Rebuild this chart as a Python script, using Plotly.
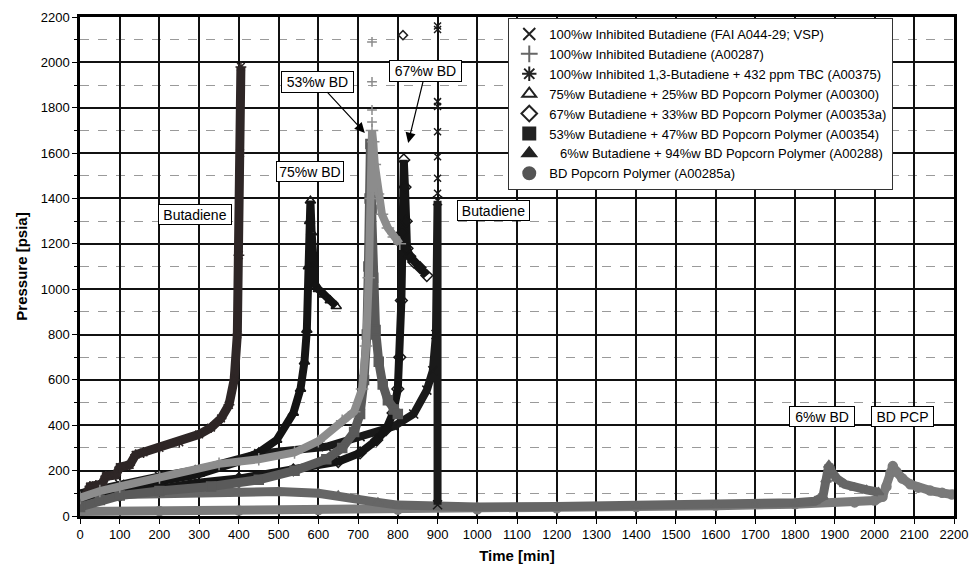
import plotly.graph_objects as go

# ---------------- data ----------------
# 100%w Inhibited 1,3-Butadiene + 432 ppm TBC (A00375)  -> first "Butadiene" spike
tbc_t = [0, 15, 25, 40, 55, 65, 90, 100, 125, 140, 160, 200, 250, 300, 330, 355, 375, 388, 396, 400, 403, 405]
tbc_p = [60, 90, 130, 135, 140, 175, 180, 215, 225, 270, 280, 300, 325, 360, 390, 430, 490, 600, 800, 1150, 1600, 1980]

# 75%w Butadiene + 25%w BD Popcorn Polymer (A00300)
d75_t = [0, 50, 100, 200, 300, 400, 450, 495, 537, 555, 565, 571, 575, 578, 580, 583, 587, 592, 600, 615, 630, 645]
d75_p = [70, 100, 120, 150, 185, 240, 280, 335, 454, 560, 680, 820, 1100, 1300, 1390, 1250, 1100, 1020, 1000, 975, 950, 925]

# 100%w Inhibited Butadiene (A00287)
plus_t = [0, 50, 100, 200, 350, 450, 540, 600, 660, 690, 710, 720, 727, 732, 735, 738, 742, 750, 760, 775, 790, 805]
plus_p = [80, 110, 130, 170, 230, 250, 280, 330, 420, 460, 560, 750, 1050, 1400, 1700, 1650, 1550, 1420, 1330, 1270, 1230, 1200]
plus_iso_t = [735, 735, 735, 735]
plus_iso_p = [1737, 1790, 1914, 2090]

# 53%w Butadiene + 47%w BD Popcorn Polymer (A00354)
sq_t = [0, 50, 100, 200, 330, 450, 540, 620, 660, 690, 705, 715, 722, 726, 729, 731, 734, 738, 744, 752, 762, 775, 790, 800]
sq_p = [40, 70, 90, 110, 130, 160, 200, 250, 300, 370, 450, 600, 800, 1100, 1400, 1640, 1350, 1050, 820, 680, 580, 510, 470, 450]

# 67%w Butadiene + 33%w BD Popcorn Polymer (A00353a)
dia_t = [0, 100, 200, 285, 400, 537, 650, 705, 747, 770, 788, 800, 805, 809, 812, 815, 818, 821, 823, 830, 840, 856, 873]
dia_p = [60, 90, 115, 145, 165, 203, 240, 278, 335, 380, 454, 560, 700, 950, 1250, 1570, 1450, 1300, 1180, 1145, 1120, 1095, 1060]
dia_iso_t = [813]
dia_iso_p = [2120]

# 100%w Inhibited Butadiene (FAI A044-29; VSP) -> second "Butadiene" spike at 900 min
x_t = [0, 100, 200, 300, 450, 620, 705, 790, 840, 873, 888, 896, 900, 900]
x_p = [100, 140, 175, 205, 275, 305, 350, 395, 450, 555, 640, 800, 1390, 50]
x_iso_t = [900, 900, 900, 900, 900, 900, 900, 900]
x_iso_p = [2160, 2145, 1827, 1805, 1694, 1584, 1489, 1423]

# 6%w Butadiene + 94%w BD Popcorn Polymer (A00288)
tri_t = [0, 30, 100, 200, 300, 400, 500, 600, 650, 700, 750, 800, 900, 1000, 1200, 1400, 1600, 1700, 1800, 1850,
         1870, 1878, 1885, 1892, 1905, 1925, 1950, 1980, 2010]
tri_p = [60, 85, 95, 100, 105, 108, 108, 100, 90, 75, 60, 48, 40, 40, 42, 45, 48, 52, 58, 65,
         85, 160, 225, 195, 165, 140, 125, 115, 105]

# BD Popcorn Polymer (A00285a)
pcp_t = [0, 200, 400, 600, 800, 1000, 1200, 1400, 1600, 1800, 1950, 2000, 2020, 2030, 2040, 2046, 2055, 2070,
         2090, 2110, 2140, 2170, 2195]
pcp_p = [20, 22, 24, 26, 28, 30, 34, 40, 45, 52, 60, 68, 85, 130, 190, 220, 195, 165,
         140, 125, 112, 102, 95]

legend_names = [
    "100%w Inhibited Butadiene (FAI A044-29; VSP)",
    "100%w Inhibited Butadiene (A00287)",
    "100%w Inhibited 1,3-Butadiene + 432 ppm TBC (A00375)",
    "75%w Butadiene + 25%w BD Popcorn Polymer (A00300)",
    "67%w Butadiene + 33%w BD Popcorn Polymer (A00353a)",
    "53%w Butadiene + 47%w BD Popcorn Polymer (A00354)",
    "\u00a0\u00a0\u00a06%w Butadiene + 94%w BD Popcorn Polymer (A00288)",
    "BD Popcorn Polymer (A00285a)",
]

ann_text = ["Butadiene", "75%w BD", "Butadiene", "6%w BD", "BD PCP"]
ann_t = [289, 579, 1042, 1868, 2070]
ann_p = [1329, 1521, 1345, 440, 440]

arrow_text = ["53%w BD", "67%w BD"]
arrow_box_t = [598, 870]
arrow_box_p = [1915, 1962]
arrow_tip_t = [717, 826]
arrow_tip_p = [1689, 1645]

# ---------------- figure ----------------
fig = go.Figure()

series = [
    (pcp_t, pcp_p, "circle", "#7a7a7a", 9),
    (tri_t, tri_p, "triangle-up", "#666666", 9),
    (x_t, x_p, "x-thin-open", "#1a1a1a", 8),
    (tbc_t, tbc_p, "asterisk-open", "#2e2626", 9),
    (d75_t, d75_p, "triangle-up-open", "#141414", 8),
    (dia_t, dia_p, "diamond-open", "#151515", 8),
    (sq_t, sq_p, "square", "#5a5a5a", 9),
    (plus_t, plus_p, "cross-thin-open", "#8c8c8c", 8),
]
for t, p, sym, col, w in series:
    fig.add_trace(go.Scatter(
        x=t, y=p, mode="lines+markers", showlegend=False, hoverinfo="skip",
        line=dict(color=col, width=w),
        marker=dict(symbol=sym, size=9, color=col, line=dict(color=col, width=1.5)),
    ))

iso = [
    (plus_iso_t, plus_iso_p, "cross-thin-open", "#8c8c8c"),
    (dia_iso_t, dia_iso_p, "diamond-open", "#222222"),
    (x_iso_t, x_iso_p, "x-thin-open", "#1a1a1a"),
]
for t, p, sym, col in iso:
    fig.add_trace(go.Scatter(
        x=t, y=p, mode="markers", showlegend=False, hoverinfo="skip",
        marker=dict(symbol=sym, size=7, color=col, line=dict(color=col, width=1.5)),
    ))

leg_sym = ["x-thin-open", "cross-thin-open", "asterisk-open", "triangle-up-open",
           "diamond-open", "square", "triangle-up", "circle"]
leg_col = ["#222", "#666", "#222", "#222", "#222", "#222", "#222", "#555"]
for name, sym, col in zip(legend_names, leg_sym, leg_col):
    fig.add_trace(go.Scatter(
        x=[None], y=[None], mode="markers", name=name,
        marker=dict(symbol=sym, size=7, color=col, line=dict(color=col, width=1.3)),
    ))

box_w = [70, 64, 69, 62, 59]
for txt, t, p, w in zip(ann_text, ann_t, ann_p, box_w):
    fig.add_annotation(x=t, y=p, text=txt, showarrow=False, width=w, height=17,
                       font=dict(size=14, color="black"),
                       bgcolor="white", bordercolor="black", borderwidth=1, borderpad=1)

for txt, bt, bp, tt, tp in zip(arrow_text, arrow_box_t, arrow_box_p, arrow_tip_t, arrow_tip_p):
    fig.add_annotation(x=tt, y=tp, ax=bt, ay=bp, axref="x", ayref="y", text=txt,
                       width=69, height=18,
                       showarrow=True, arrowhead=2, arrowsize=1.7, arrowwidth=1.2,
                       arrowcolor="black",
                       font=dict(size=14, color="black"),
                       bgcolor="white", bordercolor="black", borderwidth=1, borderpad=1)

fig.update_layout(
    width=970, height=569,
    margin=dict(l=80, r=16, t=17, b=53, autoexpand=False),
    paper_bgcolor="white", plot_bgcolor="white",
    font=dict(family="Liberation Sans, Arial, sans-serif", size=13, color="black"),
    legend=dict(x=0.49, y=0.998, xanchor="left", yanchor="top",
                bgcolor="white", bordercolor="#333", borderwidth=1,
                font=dict(size=13), itemsizing="constant", tracegroupgap=0,
                itemwidth=30),
)
fig.update_xaxes(
    range=[0, 2200], dtick=100, tick0=0, automargin=False,
    showgrid=True, gridcolor="#111", gridwidth=1.5,
    showline=True, linecolor="black", linewidth=2.5, mirror=True,
    ticks="outside", ticklen=5, tickcolor="black",
    tickfont=dict(size=13), zeroline=False,
    title=dict(text="<b>Time [min]</b>", font=dict(size=15), standoff=10),
)
fig.update_yaxes(
    range=[0, 2200], dtick=200, tick0=0, automargin=False,
    showgrid=True, gridcolor="#111", gridwidth=1.5,
    minor=dict(dtick=100, showgrid=True, gridcolor="#9a9a9a", griddash="dash", gridwidth=1,
               ticks="outside", ticklen=3, tickcolor="black"),
    showline=True, linecolor="black", linewidth=2.5, mirror=True,
    ticks="outside", ticklen=5, tickcolor="black",
    tickfont=dict(size=13), zeroline=False,
    title=dict(text="<b>Pressure [psia]</b>", font=dict(size=15), standoff=10),
)

fig.write_html(
    "out.html",
    config={"displayModeBar": False},
    post_script="document.body.style.margin='0';document.body.style.overflow='hidden';",
)
